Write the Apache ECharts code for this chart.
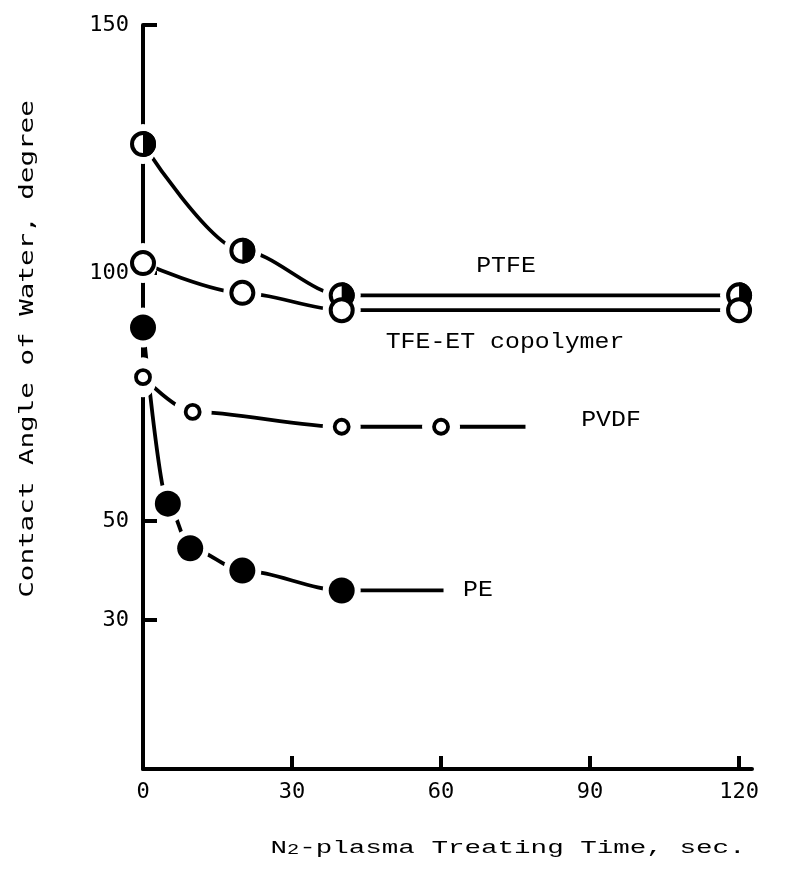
<!DOCTYPE html>
<html>
<head>
<meta charset="utf-8">
<script src="https://cdn.jsdelivr.net/npm/echarts@6/dist/echarts.min.js"></script>
<style>
html,body{margin:0;padding:0;background:#fff;}
#chart{width:791px;height:876px;}
</style>
</head>
<body>
<div id="chart"></div>
<script>
// ---- data ----
const ptfeTime = [0, 20, 40, 120];
const ptfeAngle = [126, 104.5, 95.5, 95.5];
const tfeTime = [0, 20, 40, 120];
const tfeAngle = [102, 96, 92.5, 92.5];
const pvdfTime = [0, 10, 40, 60];
const pvdfAngle = [79, 72, 69, 69];
const peTime = [0, 5, 9.5, 20, 40];
const peAngle = [89, 53.5, 44.5, 40, 36];
// where each drawn curve runs out (time, sec.)
const ptfeLineEnd = 131;
const tfeLineEnd = 131;
const pvdfLineEnd = 77;
const peLineEnd = 60.5;

const xTicks = [0, 30, 60, 90, 120];
const yTicks = [30, 50, 100, 150];

const seriesNames = ['PTFE', 'TFE-ET copolymer', 'PVDF', 'PE'];

function pts(t, v) { return t.map((x, i) => [x, v[i]]); }
function withEnd(t, v, end) { const p = pts(t, v); p.push([end, v[v.length - 1]]); return p; }

const lineStyle = { color: '#000', width: 3.8 };
function curve(name, data) {
  return { name: name, type: 'line', data: data, smooth: 0.3, smoothMonotone: 'x',
    showSymbol: false, clip: false, lineStyle: lineStyle, z: 2, silent: true };
}

const allPts = pts(ptfeTime, ptfeAngle).concat(pts(tfeTime, tfeAngle), pts(pvdfTime, pvdfAngle), pts(peTime, peAngle));

const chart = echarts.init(document.getElementById('chart'), null, { renderer: 'canvas' });
chart.setOption({
  animation: false,
  backgroundColor: '#fff',
  grid: { left: 143, right: 39, top: 25, bottom: 107, containLabel: false, outerBoundsMode: 'none' },
  xAxis: {
    type: 'value', min: 0, max: 122.6,
    axisLine: { show: true, lineStyle: { color: '#000', width: 4 } },
    axisTick: { show: true, inside: true, length: 13, lineStyle: { color: '#000', width: 4 }, customValues: [30, 60, 90, 120] },
    axisLabel: { customValues: xTicks, color: '#000', fontFamily: 'DejaVu Sans Mono', fontSize: 22, margin: 12 },
    splitLine: { show: false }
  },
  yAxis: {
    type: 'value', min: 0, max: 150,
    axisLine: { show: true, lineStyle: { color: '#000', width: 4 } },
    axisTick: { show: true, inside: true, length: 14, lineStyle: { color: '#000', width: 4 }, customValues: yTicks },
    axisLabel: { customValues: yTicks, color: '#000', fontFamily: 'DejaVu Sans Mono', fontSize: 22, margin: 14 },
    splitLine: { show: false }
  },
  series: [
    curve(seriesNames[0], withEnd(ptfeTime, ptfeAngle, ptfeLineEnd)),
    curve(seriesNames[1], withEnd(tfeTime, tfeAngle, tfeLineEnd)),
    curve(seriesNames[2], withEnd(pvdfTime, pvdfAngle, pvdfLineEnd)),
    curve(seriesNames[3], withEnd(peTime, peAngle, peLineEnd)),
    // white halo that opens the gaps around each marker
    { type: 'scatter', data: allPts, symbol: 'circle',
      symbolSize: function (v) { return v[0] === 0 ? [28, 40] : 38; },
      itemStyle: { color: '#fff', opacity: 1 }, z: 3, silent: true },
    // PTFE: half-filled circle
    { name: 'PTFE', type: 'scatter', data: pts(ptfeTime, ptfeAngle), symbol: 'circle', symbolSize: 22,
      itemStyle: { color: '#fff', borderColor: '#000', borderWidth: 4, opacity: 1 }, z: 4 },
    { name: 'PTFE', type: 'scatter', data: pts(ptfeTime, ptfeAngle), symbol: 'path://M0,-1 A1,1 0 0,1 0,1 Z',
      symbolSize: [13, 26], symbolOffset: [6.5, 0], itemStyle: { color: '#000', opacity: 1 }, z: 4 },
    // TFE-ET copolymer: open circle
    { name: 'TFE-ET copolymer', type: 'scatter', data: pts(tfeTime, tfeAngle), symbol: 'circle', symbolSize: 22,
      itemStyle: { color: '#fff', borderColor: '#000', borderWidth: 4, opacity: 1 }, z: 4 },
    // PVDF: small open circle
    { name: 'PVDF', type: 'scatter', data: pts(pvdfTime, pvdfAngle), symbol: 'circle', symbolSize: 14,
      itemStyle: { color: '#fff', borderColor: '#000', borderWidth: 3.8, opacity: 1 }, z: 4 },
    // PE: filled circle
    { name: 'PE', type: 'scatter', data: pts(peTime, peAngle), symbol: 'circle', symbolSize: 26,
      itemStyle: { color: '#000', opacity: 1 }, z: 4 }
  ],
  graphic: [
    { type: 'text', x: 28, y: 349, rotation: Math.PI / 2, scaleX: 1.45, silent: true,
      style: { text: 'Contact Angle of Water, degree', fontFamily: 'DejaVu Sans Mono', fontSize: 19,
        fill: '#000', textAlign: 'center', textVerticalAlign: 'middle' } },
    { type: 'text', x: 508, y: 848, scaleX: 1.45, silent: true,
      style: { text: 'N{sub|2}-plasma Treating Time, sec.', fontFamily: 'Liberation Mono', fontSize: 19,
        fill: '#000', textAlign: 'center', textVerticalAlign: 'middle',
        rich: { sub: { fontFamily: 'Liberation Mono', fontSize: 14, fill: '#000', verticalAlign: 'bottom', lineHeight: 14 } } } },
    { type: 'text', x: 506, y: 266, scaleX: 1.13, silent: true,
      style: { text: seriesNames[0], fontFamily: 'Liberation Mono', fontSize: 22, fill: '#000', textAlign: 'center', textVerticalAlign: 'middle' } },
    { type: 'text', x: 505, y: 342, scaleX: 1.13, silent: true,
      style: { text: seriesNames[1], fontFamily: 'Liberation Mono', fontSize: 22, fill: '#000', textAlign: 'center', textVerticalAlign: 'middle' } },
    { type: 'text', x: 611, y: 420, scaleX: 1.13, silent: true,
      style: { text: seriesNames[2], fontFamily: 'Liberation Mono', fontSize: 22, fill: '#000', textAlign: 'center', textVerticalAlign: 'middle' } },
    { type: 'text', x: 478, y: 590, scaleX: 1.13, silent: true,
      style: { text: seriesNames[3], fontFamily: 'Liberation Mono', fontSize: 22, fill: '#000', textAlign: 'center', textVerticalAlign: 'middle' } }
  ]
});
</script>
</body>
</html>
